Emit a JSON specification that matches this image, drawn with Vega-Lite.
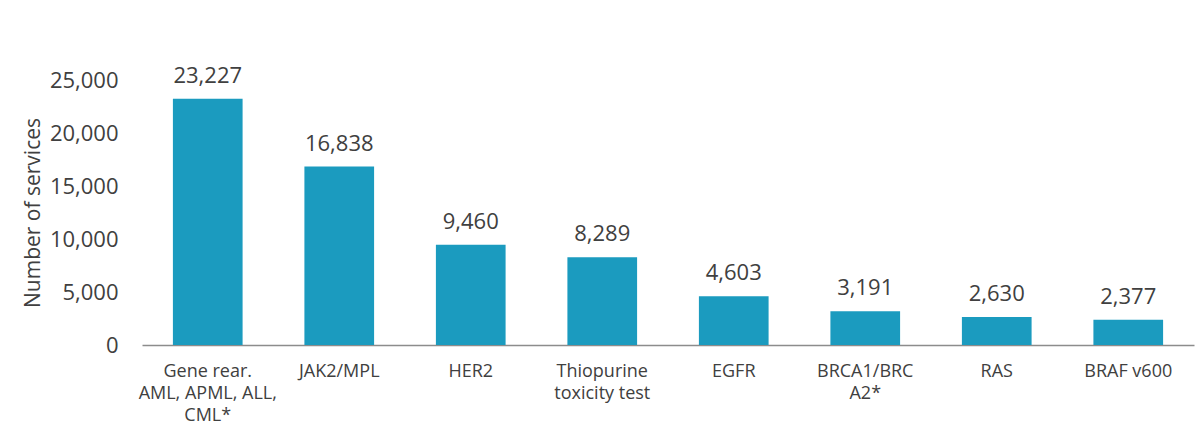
{
  "$schema": "https://vega.github.io/schema/vega-lite/v6.json",
  "autosize": "none",
  "width": 1052,
  "height": 265,
  "padding": {"left": 142, "top": 80, "right": 6, "bottom": 85},
  "background": "white",
  "config": {
    "view": {"stroke": null},
    "font": "Open Sans",
    "axis": {"labelFont": "Open Sans", "titleFont": "Open Sans", "labelColor": "#404040", "titleColor": "#404040", "grid": false}
  },
  "data": {
    "values": [
      {"test": "Gene rear.|AML, APML, ALL,|CML*", "services": 23227},
      {"test": "JAK2/MPL", "services": 16838},
      {"test": "HER2", "services": 9460},
      {"test": "Thiopurine|toxicity test", "services": 8289},
      {"test": "EGFR", "services": 4603},
      {"test": "BRCA1/BRC|A2*", "services": 3191},
      {"test": "RAS", "services": 2630},
      {"test": "BRAF v600", "services": 2377}
    ]
  },
  "encoding": {
    "x": {
      "field": "test", "type": "nominal", "sort": null,
      "scale": {"paddingInner": 0.47, "paddingOuter": 0.235},
      "axis": {
        "title": null, "labelAngle": 0, "labelFontSize": 18, "labelPadding": 17,
        "labelExpr": "split(datum.label, '|')", "labelLineHeight": 22,
        "ticks": false, "domainColor": "#8c8c8c", "domainWidth": 1.3,
        "labelBaseline": "top"
      }
    },
    "y": {
      "field": "services", "type": "quantitative",
      "scale": {"domain": [0, 25000], "nice": false},
      "axis": {
        "title": "Number of services", "titleFontSize": 21, "titleFontWeight": "normal",
        "labelFontSize": 22, "labelPadding": 24, "ticks": false, "domain": false,
        "values": [0, 5000, 10000, 15000, 20000, 25000], "format": ",d", "titlePadding": 6
      }
    }
  },
  "layer": [
    {"mark": {"type": "bar", "color": "#1b9bbf"}},
    {
      "mark": {"type": "text", "fontSize": 22, "color": "#404040", "baseline": "alphabetic", "dy": -16},
      "encoding": {"text": {"field": "services", "type": "quantitative", "format": ","}}
    }
  ]
}
